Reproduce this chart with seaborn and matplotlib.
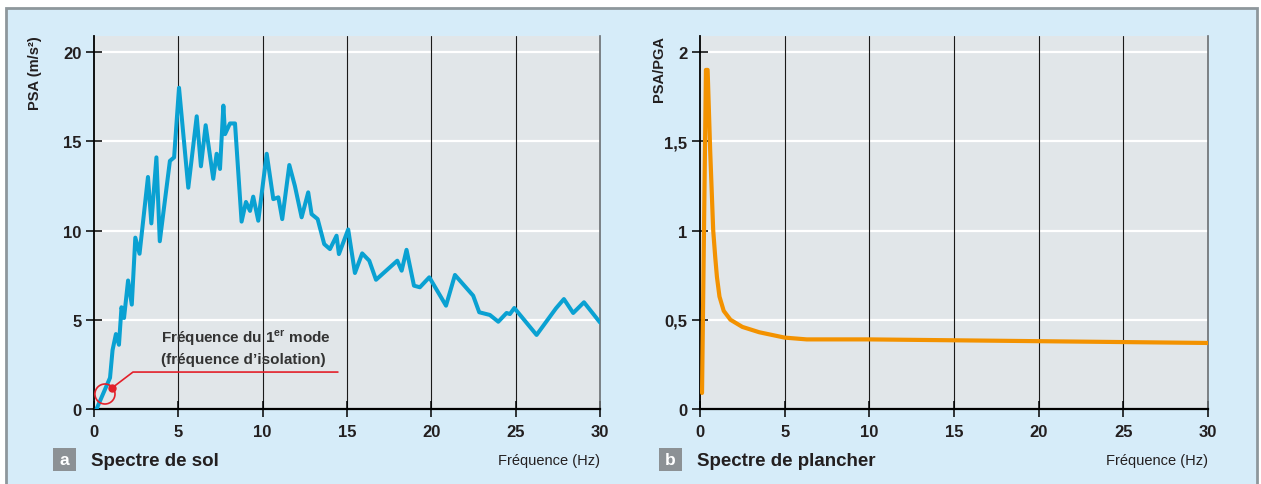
import matplotlib
matplotlib.use("Agg")
import matplotlib.pyplot as plt
import seaborn as sns
import pandas as pd
from matplotlib.patches import Rectangle, Ellipse
from matplotlib.ticker import FuncFormatter

# --- data ---
freq_sol = [0.15, 0.95, 1.1, 1.3, 1.48, 1.63, 1.78, 2.02, 2.24, 2.45, 2.7, 3.2, 3.4, 3.7, 3.9,
            4.5, 4.75, 5.04, 5.59, 6.09, 6.34, 6.62, 7.07, 7.27, 7.47, 7.67, 7.77, 8.06, 8.36,
            8.75, 9.01, 9.25, 9.44, 9.74, 10.24, 10.63, 10.93, 11.16, 11.58, 11.91, 12.31, 12.7,
            12.9, 13.26, 13.65, 13.99, 14.38, 14.52, 15.07, 15.47, 15.9, 16.32, 16.72, 17.98,
            18.24, 18.53, 18.97, 19.32, 19.88, 20.87, 21.4, 22.48, 22.84, 23.47, 23.97, 24.46,
            24.66, 24.92, 26.24, 27.39, 27.86, 28.41, 29.05, 30.0]
psa_sol = [0.0, 1.75, 3.3, 4.2, 3.6, 5.7, 5.1, 7.2, 5.85, 9.6, 8.7, 13.0, 10.4, 14.1, 9.4,
           13.9, 14.1, 18.0, 12.4, 16.4, 13.6, 15.9, 12.9, 14.3, 13.45, 17.0, 15.4, 16.0, 16.0,
           10.5, 11.6, 11.1, 11.9, 10.55, 14.3, 11.76, 11.86, 10.64, 13.67, 12.5, 10.74, 12.14,
           10.92, 10.64, 9.24, 8.96, 9.71, 8.68, 10.06, 7.62, 8.72, 8.31, 7.24, 8.31,
           7.75, 8.92, 6.91, 6.82, 7.38, 5.79, 7.51, 6.35, 5.42, 5.27, 4.89, 5.38,
           5.32, 5.66, 4.15, 5.64, 6.16, 5.38, 5.98, 4.85]

freq_plancher = [0.12, 0.35, 0.45, 0.6, 0.78, 0.9, 1.0, 1.15, 1.4, 1.8, 2.5, 3.5, 5.0, 6.3,
                 10, 15, 20, 25, 30]
ratio_plancher = [0.09, 1.9, 1.9, 1.45, 1.0, 0.85, 0.74, 0.63, 0.55, 0.5, 0.46, 0.43, 0.40, 0.39,
                  0.39, 0.385, 0.38, 0.375, 0.37]

x_ticks = [0, 5, 10, 15, 20, 25, 30]
y_ticks_sol = [0, 5, 10, 15, 20]
y_ticks_plancher = [0, 0.5, 1, 1.5, 2]

df_sol = pd.DataFrame({"f": freq_sol, "psa": psa_sol})
df_pl = pd.DataFrame({"f": freq_plancher, "r": ratio_plancher})

sns.set_style("white")
plt.rcParams["font.family"] = ["Liberation Sans", "DejaVu Sans"]
plt.rcParams["mathtext.fontset"] = "custom"
plt.rcParams["mathtext.bf"] = "Liberation Sans:bold"
plt.rcParams["mathtext.rm"] = "Liberation Sans"

BG = "#d6ecf9"
PANEL = "#e1e6e9"
TXT = "#231f20"
RED = "#e3202a"
W, H = 1261, 485

fig = plt.figure(figsize=(W / 100, H / 100), dpi=100)
fig.patch.set_facecolor("white")
fig.patches.append(Rectangle((6 / W, -0.05), (1257 - 6) / W, 1 - 9 / H + 0.05,
                             transform=fig.transFigure, facecolor=BG, edgecolor="#8e979c",
                             lw=2, zorder=-10))

ax1 = fig.add_axes([94 / W, 75 / H, 506 / W, 373 / H])
ax2 = fig.add_axes([700 / W, 75 / H, 508 / W, 373 / H])


def style_axis(ax, yticks, ytop):
    ax.set_facecolor(PANEL)
    ax.set_xlim(0, 30)
    ax.set_ylim(0, ytop)
    ax.set_xticks(x_ticks)
    ax.set_yticks(yticks)
    ax.set_axisbelow(True)
    for x in x_ticks[1:-1]:
        ax.axvline(x, color="#1a1a1a", lw=0.8, zorder=0.5)
    for y in yticks[1:]:
        ax.axhline(y, color="white", lw=1.6, zorder=0.4)
    ax.spines["top"].set_visible(False)
    ax.spines["right"].set_color("#6b6f72")
    ax.spines["right"].set_linewidth(1.2)
    ax.spines["left"].set_color("black")
    ax.spines["left"].set_linewidth(1.3)
    ax.spines["bottom"].set_color("black")
    ax.spines["bottom"].set_linewidth(1.6)
    ax.tick_params(axis="y", left=True, direction="inout", length=12, width=1.1,
                   color="black", pad=3)
    ax.tick_params(axis="x", bottom=True, direction="inout", length=11, width=1.1,
                   color="black", pad=5)
    ax.set_xlabel("")
    ax.set_ylabel("")


sns.lineplot(data=df_sol, x="f", y="psa", ax=ax1, color="#0aa1d2", lw=2.9, zorder=3)
sns.lineplot(data=df_pl, x="f", y="r", ax=ax2, color="#f39200", lw=3.0, zorder=3)

style_axis(ax1, y_ticks_sol, 20.9)
style_axis(ax2, y_ticks_plancher, 2.09)
ax2.yaxis.set_major_formatter(FuncFormatter(lambda v, p: f"{v:g}".replace(".", ",")))
for ax in (ax1, ax2):
    for lab in ax.get_xticklabels() + ax.get_yticklabels():
        lab.set_fontweight("bold")
        lab.set_fontsize(12)
        lab.set_color(TXT)

# annotation of the first mode
circ_xy, circ_w, circ_h = (0.65, 0.84), 1.19, 1.12
dot_xy = (1.07, 1.18)
elbow_xy = (2.31, 2.07)
end_x = 14.46
ax1.add_patch(Ellipse(circ_xy, circ_w, circ_h, fill=False, edgecolor=RED, lw=1.2, zorder=4,
                      clip_on=False))
ax1.plot([dot_xy[0], elbow_xy[0], end_x], [dot_xy[1], elbow_xy[1], elbow_xy[1]],
         color=RED, lw=1.2, zorder=4)
ax1.plot([dot_xy[0]], [dot_xy[1]], "o", color=RED, ms=5, zorder=5)
ax1.text(4.0, 4.05, r"Fréquence du 1$^{\mathbf{er}}$ mode", fontsize=11, fontweight="bold",
         color="#333333", va="center", ha="left")
ax1.text(4.0, 2.8, "(fréquence d’isolation)", fontsize=11, fontweight="bold",
         color="#333333", va="center", ha="left")

# axis titles
fig.text(35 / W, 1 - 73 / H, "PSA (m/s²)", rotation=90, ha="center", va="center",
         fontsize=10.5, fontweight="bold", color=TXT)
fig.text(659 / W, 1 - 69 / H, "PSA/PGA", rotation=90, ha="center", va="center",
         fontsize=10.5, fontweight="bold", color=TXT)

# bottom captions
for x0, letter, title, xr in [(53, "a", "Spectre de sol", 600), (659, "b", "Spectre de plancher", 1208)]:
    fig.patches.append(Rectangle((x0 / W, (485 - 472) / H), 23 / W, 23 / H,
                                 transform=fig.transFigure, facecolor="#8c9195", edgecolor="none"))
    fig.text((x0 + 11.5) / W, 1 - 461 / H, letter, ha="center", va="center", fontsize=12.5,
             fontweight="bold", color="white")
    fig.text((x0 + 38) / W, 1 - 462 / H, title, ha="left", va="center", fontsize=13.5,
             fontweight="bold", color=TXT)
    fig.text(xr / W, 1 - 461 / H, "Fréquence (Hz)", ha="right", va="center", fontsize=10.5,
             color=TXT)

fig.savefig("out.png", dpi=100)
